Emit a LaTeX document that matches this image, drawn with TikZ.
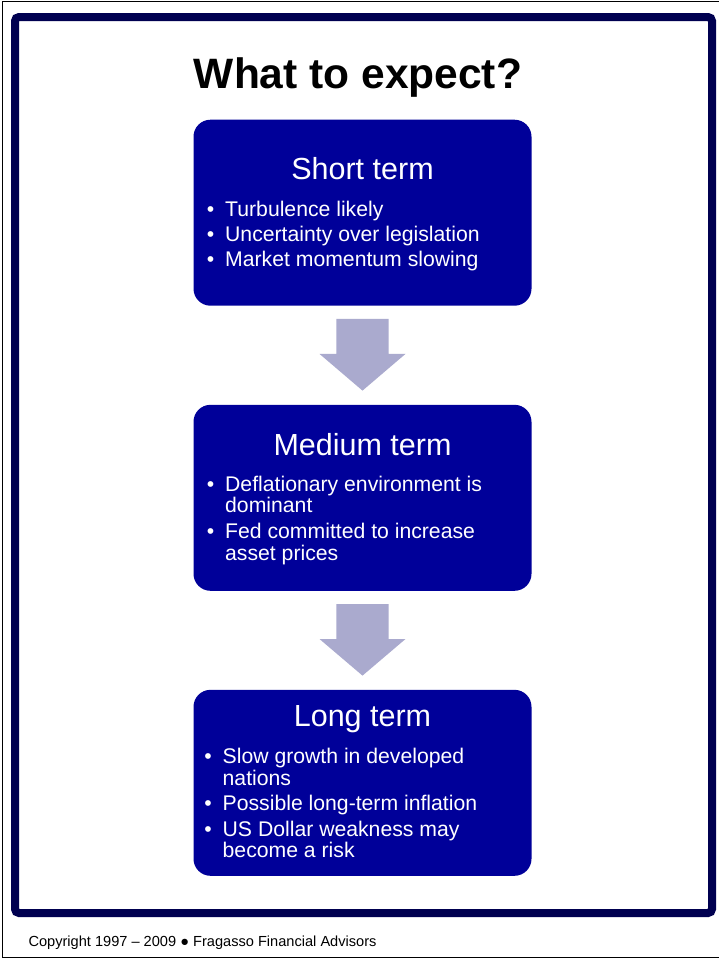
\documentclass[tikz,border=0pt]{standalone}
\usepackage{fontspec}
\setmainfont{Liberation Sans}
\usetikzlibrary{calc}
\definecolor{boxblue}{RGB}{0,0,153}
\definecolor{framenavy}{RGB}{0,0,80}
\definecolor{arrowc}{RGB}{170,170,206}
\tikzset{
  box/.style={fill=boxblue, draw=none, rounded corners=17pt, minimum width=338pt, minimum height=186pt, inner sep=0pt},
  headtxt/.style={anchor=base, text=white, font=\fontsize{30.5}{36}\selectfont, inner sep=0pt},
  itemtxt/.style={anchor=base west, text=white, font=\fontsize{21.2}{25}\selectfont, inner sep=0pt},
  flow/.style={fill=arrowc, draw=none}
}
\newcommand{\mybul}{\llap{•\hspace{11pt}}}
\begin{document}
\begin{tikzpicture}[x=1pt,y=-1pt]
\useasboundingbox (0,0) rectangle (719,959);
\fill[white] (0,0) rectangle (719,959);
\draw[line width=1.2pt] (722,1.5) -- (2.5,1.5) -- (2.5,957.5) -- (722,957.5);
\draw[framenavy, line width=8pt, rounded corners=4pt] (15,17) rectangle (712,913);
\node[anchor=base, font=\bfseries\fontsize{42.5}{50}\selectfont, inner sep=0pt] (title) at (358,88) {What to expect?};

\node[box] (b1) at (362.5,212.7) {};
\node[box] (b2) at (362.5,497.8) {};
\node[box] (b3) at (362.5,782.8) {};

\node[headtxt] (h1) at (362.5,179.3) {Short term};
\node[itemtxt] (i11) at (225,216) {\mybul Turbulence likely};
\node[itemtxt] (i12) at (225,241.3) {\mybul Uncertainty over legislation};
\node[itemtxt] (i13) at (225,266.7) {\mybul Market momentum slowing};

\node[headtxt] (h2) at (362.5,455) {Medium term};
\node[itemtxt] (i21) at (225,491) {\mybul Deflationary environment is};
\node[itemtxt] (i21b) at (225,512.7) {dominant};
\node[itemtxt] (i22) at (225,538.3) {\mybul Fed committed to increase};
\node[itemtxt] (i22b) at (225,560) {asset prices};

\node[headtxt] (h3) at (362.5,726.7) {Long term};
\node[itemtxt] (i31) at (222.5,763.3) {\mybul Slow growth in developed};
\node[itemtxt] (i31b) at (222.5,785) {nations};
\node[itemtxt] (i32) at (222.5,810.6) {\mybul Possible long-term inflation};
\node[itemtxt] (i33) at (222.5,836.2) {\mybul US Dollar weakness may};
\node[itemtxt] (i33b) at (222.5,857.9) {become a risk};

\foreach \a/\b in {b1/b2, b2/b3} {
  \fill[flow] ($(\a.south)+(-26.2,13)$) -- ($(\a.south)+(26.2,13)$) -- ($(\a.south)+(26.2,48)$)
    -- ($(\a.south)+(43,48)$) -- ($(\b.north)+(0,-14)$) -- ($(\a.south)+(-43,48)$)
    -- ($(\a.south)+(-26.2,48)$) -- cycle;
}

\node[anchor=base west, font=\fontsize{14.6}{17}\selectfont, inner sep=0pt] (foot) at (28.3,946.7) {Copyright 1997 – 2009 ● Fragasso Financial Advisors};
\end{tikzpicture}
\end{document}
